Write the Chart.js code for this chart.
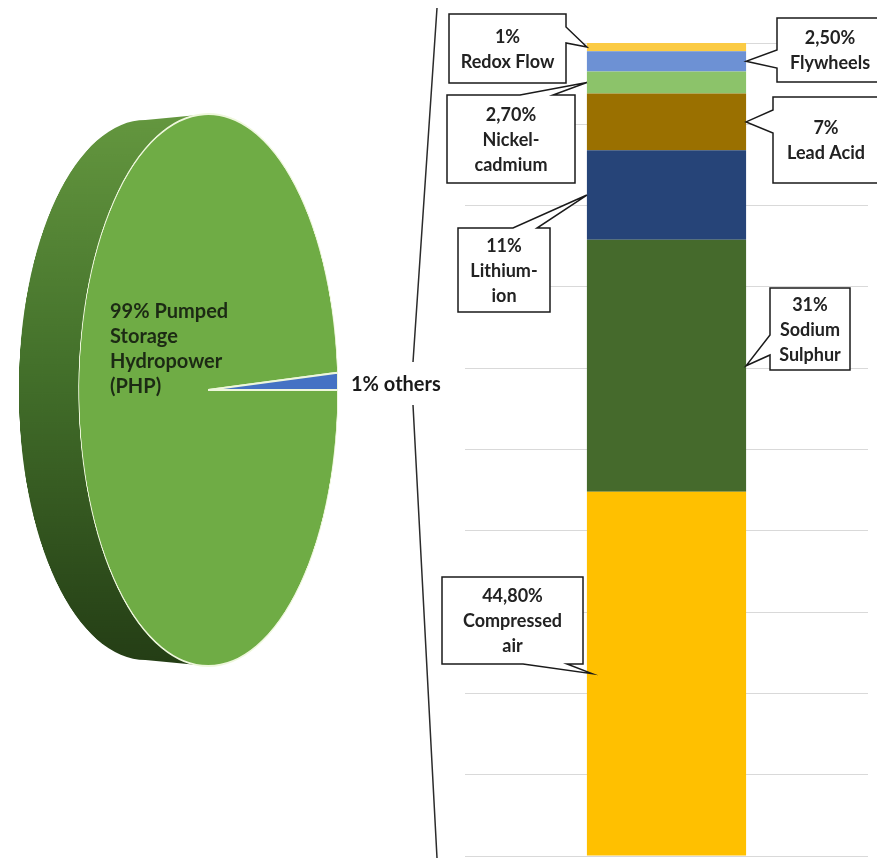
<!DOCTYPE html>
<html><head><meta charset="utf-8">
<script src="https://cdn.jsdelivr.net/npm/chart.js@4.4.1/dist/chart.umd.min.js"></script>
<style>
html,body{margin:0;padding:0;background:#fff;}
#wrap{position:relative;width:877px;height:859px;overflow:hidden;background:#fff;}
#pie{position:absolute;left:8px;top:90px;transform:scaleX(0.469);transform-origin:0 0;z-index:1;}
#bar{position:absolute;left:0;top:0;z-index:2;}
</style></head><body>
<div id="wrap">
<canvas id="pie" width="704" height="600"></canvas>
<canvas id="bar" width="877" height="859"></canvas>
</div>
<script>
// ---- data ----
const pieCategories = ['Pumped Storage Hydropower (PHP)', 'others'];
const pieShares = [99, 1];
const pieShareText = ['99%', '1%'];
const pieLabelLines = [['Pumped', 'Storage', 'Hydropower', '(PHP)'], ['others']];
const pieColors = ['#6FAC45', '#4472C4'];

const barCategories = ['Compressed air', 'Sodium Sulphur', 'Lithium-ion', 'Lead Acid', 'Nickel-cadmium', 'Flywheels', 'Redox Flow'];
const barShares = [44.8, 31, 11, 7, 2.7, 2.5, 1];
const barShareText = ['44,80%', '31%', '11%', '7%', '2,70%', '2,50%', '1%'];
const barLabelLines = [['Compressed', 'air'], ['Sodium', 'Sulphur'], ['Lithium-', 'ion'], ['Lead Acid'], ['Nickel-', 'cadmium'], ['Flywheels'], ['Redox Flow']];
const barColors = ['#FFC000', '#456A2C', '#264478', '#9A7000', '#8CC36A', '#6D91D4', '#FBCB45'];
const yAxisMin = 0, yAxisMax = 100, yAxisStep = 10;

// ---- layout of callouts (positions only) ----
const calloutLayout = [
  {box: [442, 577, 583, 664], side: 'bottom', base: [523, 567], tip: 'left', inset: 5},
  {box: [770, 288, 850, 370], side: 'left', base: [335, 355], tip: 'right', inset: 0},
  {box: [458, 228, 550, 312], side: 'top', base: [513, 537], tip: 'left', inset: 0},
  {box: [773, 97, 879, 183], side: 'left', base: [110, 133], tip: 'right', inset: 0},
  {box: [447, 95, 575, 183], side: 'top', base: [520, 553], tip: 'left', inset: 0},
  {box: [777, 18, 883, 82], side: 'left', base: [50, 68], tip: 'right', inset: 0},
  {box: [449, 14, 566, 83], side: 'right', base: [27, 43], tip: 'left', inset: 0}
];

const TEXT_FONT = 'bold 18px Lato, "Open Sans", sans-serif';
const PIE_FONT = 'bold 20px Lato, "Open Sans", sans-serif';

function calloutPath(ctx, c, tx, ty) {
  const [x0, y0, x1, y1] = c.box;
  const [a, b] = c.base;
  ctx.beginPath();
  ctx.moveTo(x0, y0);
  if (c.side === 'top') { ctx.lineTo(a, y0); ctx.lineTo(tx, ty); ctx.lineTo(b, y0); }
  ctx.lineTo(x1, y0);
  if (c.side === 'right') { ctx.lineTo(x1, a); ctx.lineTo(tx, ty); ctx.lineTo(x1, b); }
  ctx.lineTo(x1, y1);
  if (c.side === 'bottom') { ctx.lineTo(b, y1); ctx.lineTo(tx, ty); ctx.lineTo(a, y1); }
  ctx.lineTo(x0, y1);
  if (c.side === 'left') { ctx.lineTo(x0, b); ctx.lineTo(tx, ty); ctx.lineTo(x0, a); }
  ctx.closePath();
}

const calloutPlugin = {
  id: 'callouts',
  afterDatasetsDraw(chart) {
    const ctx = chart.ctx;
    ctx.save();
    barCategories.forEach((cat, i) => {
      const el = chart.getDatasetMeta(i).data[0];
      const c = calloutLayout[i];
      const ty = (el.y + el.base) / 2;
      const tx = c.tip === 'left' ? el.x - el.width / 2 + c.inset : el.x + el.width / 2 - c.inset;
      calloutPath(ctx, c, tx, ty);
      ctx.fillStyle = '#ffffff';
      ctx.fill();
      ctx.lineWidth = 1.5;
      ctx.strokeStyle = '#1a1a1a';
      ctx.lineJoin = 'miter';
      ctx.stroke();
      const lines = [barShareText[i]].concat(barLabelLines[i]);
      const [x0, y0, x1, y1] = c.box;
      const cx = (x0 + x1) / 2, cy = (y0 + y1) / 2;
      ctx.fillStyle = '#222222';
      ctx.font = TEXT_FONT;
      ctx.textAlign = 'center';
      ctx.textBaseline = 'middle';
      const lh = 25;
      lines.forEach((t, k) => ctx.fillText(t, cx, cy + (k - (lines.length - 1) / 2) * lh + 1));
    });
    ctx.restore();
  },
  afterDraw(chart) {
    const ctx = chart.ctx;
    ctx.save();
    // connector bracket lines from pie slice to bar
    ctx.strokeStyle = '#2b2b2b';
    ctx.lineWidth = 1.5;
    ctx.beginPath();
    ctx.moveTo(437, 8); ctx.lineTo(413, 362);
    ctx.moveTo(413, 405); ctx.lineTo(437, 858);
    ctx.stroke();
    // pie labels
    ctx.font = PIE_FONT;
    ctx.textBaseline = 'middle';
    ctx.textAlign = 'left';
    ctx.fillStyle = '#1c2a14';
    const l0 = pieLabelLines[0].slice();
    l0[0] = pieShareText[0] + ' ' + l0[0];
    l0.forEach((t, k) => ctx.fillText(t, 110, 312 + k * 25));
    ctx.fillStyle = '#1a1a1a';
    ctx.fillText(pieShareText[1] + ' ' + pieLabelLines[1][0], 351, 385);
    ctx.restore();
  }
};

new Chart(document.getElementById('bar'), {
  type: 'bar',
  data: {
    labels: ['Others'],
    datasets: barCategories.map((c, i) => ({
      label: c, data: [barShares[i]], backgroundColor: barColors[i],
      borderWidth: 0, barPercentage: 0.395, categoryPercentage: 1
    }))
  },
  options: {
    responsive: false, animation: false, devicePixelRatio: 1,
    layout: {padding: {left: 465, right: 9, top: 43, bottom: 3}},
    plugins: {legend: {display: false}, tooltip: {enabled: false}},
    scales: {
      x: {stacked: true, display: false},
      y: {stacked: true, min: yAxisMin, max: yAxisMax,
          ticks: {display: false, stepSize: yAxisStep},
          grid: {color: '#d9d9d9', lineWidth: 1, drawTicks: false},
          border: {display: false}}
    }
  },
  plugins: [calloutPlugin]
});

const sidePlugin = {
  id: 'side',
  beforeDatasetsDraw(chart) {
    const arc = chart.getDatasetMeta(0).data[0];
    const x = arc.x, y = arc.y, r = arc.outerRadius;
    const d = 134, rb = r - 6;
    const ctx = chart.ctx;
    ctx.save();
    const g = ctx.createLinearGradient(0, y - r, 0, y + r);
    g.addColorStop(0, '#64973f');
    g.addColorStop(0.45, '#44712b');
    g.addColorStop(1, '#243d15');
    ctx.fillStyle = g;
    ctx.beginPath();
    ctx.arc(x - d, y, rb, Math.PI / 2, Math.PI * 1.5);
    ctx.lineTo(x, y - r);
    ctx.lineTo(x, y + r);
    ctx.closePath();
    ctx.fill();
    ctx.restore();
  }
};

new Chart(document.getElementById('pie'), {
  type: 'pie',
  data: {
    labels: pieCategories,
    datasets: [{data: pieShares, backgroundColor: pieColors, borderColor: '#eef7dc', borderWidth: 2}]
  },
  options: {
    responsive: false, animation: false, devicePixelRatio: 1, rotation: 90,
    layout: {padding: {left: 150, top: 23, bottom: 23, right: 0}},
    plugins: {legend: {display: false}, tooltip: {enabled: false}}
  },
  plugins: [sidePlugin]
});
</script>
</body></html>
